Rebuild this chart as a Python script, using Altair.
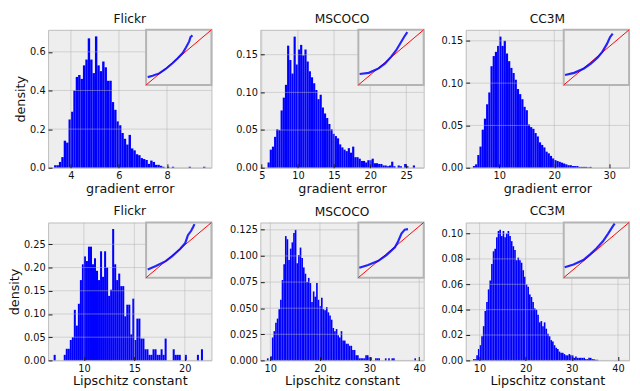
import altair as alt
import pandas as pd

# ---------------- data ----------------
TITLES = ["Flickr", "MSCOCO", "CC3M", "Flickr", "MSCOCO", "CC3M"]
XTITLES = ["gradient error"] * 3 + ["Lipschitz constant"] * 3

# histogram: first bin edge, bin width, densities
flickr_grad_lo, flickr_grad_w = 3.3, 0.1
flickr_grad = [0.013, 0.013, 0.03, 0.055, 0.14, 0.13, 0.25, 0.29, 0.40, 0.47,
               0.48, 0.46, 0.53, 0.56, 0.67, 0.56, 0.49, 0.68, 0.53, 0.50,
               0.55, 0.52, 0.45, 0.45, 0.34, 0.30, 0.24, 0.22, 0.18, 0.15,
               0.12, 0.17, 0.10, 0.09, 0.07, 0.065, 0.05, 0.045, 0.04, 0.02,
               0.037, 0.03, 0.015, 0.015, 0.01, 0.005, 0.0, 0.005, 0.0, 0.005,
               0, 0, 0, 0, 0, 0, 0.005, 0, 0, 0,
               0, 0, 0.005]

mscoco_grad_lo, mscoco_grad_w = 5.8, 0.3
mscoco_grad = [0.007, 0.024, 0.028, 0.041, 0.051, 0.05, 0.076, 0.093, 0.11, 0.162,
               0.143, 0.125, 0.174, 0.137, 0.157, 0.163, 0.149, 0.157, 0.141, 0.128,
               0.12, 0.112, 0.103, 0.091, 0.097, 0.08, 0.072, 0.066, 0.058, 0.051,
               0.045, 0.042, 0.039, 0.031, 0.027, 0.024, 0.022, 0.026, 0.02, 0.028,
               0.014, 0.014, 0.012, 0.009, 0.009, 0.007, 0.01, 0.01, 0.012, 0.006,
               0.006, 0.005, 0.005, 0.003, 0.003, 0.002, 0.003, 0.008, 0.002, 0.0,
               0.003, 0.002, 0.0, 0.005, 0.002, 0.0, 0.0, 0.003]

cc3m_grad_lo, cc3m_grad_w = 5.2, 0.4
cc3m_grad = [0.002, 0.004, 0.015, 0.025, 0.045, 0.058, 0.075, 0.089, 0.12, 0.132,
             0.137, 0.144, 0.155, 0.144, 0.15, 0.135, 0.126, 0.118, 0.112, 0.104,
             0.093, 0.087, 0.081, 0.072, 0.068, 0.051, 0.048, 0.046, 0.041, 0.037,
             0.03, 0.027, 0.024, 0.019, 0.017, 0.014, 0.011, 0.009, 0.008, 0.007,
             0.006, 0.005, 0.004, 0.003, 0.003, 0.002, 0.002, 0.002, 0.001, 0.001,
             0.001, 0.001, 0.0005, 0.001]

flickr_lip_lo, flickr_lip_w = 7.0, 0.2
flickr_lip = [0.012, 0, 0, 0, 0, 0.012, 0.025, 0.025, 0.044, 0.05,
              0.109, 0.075, 0.122, 0.173, 0.207, 0.224, 0.214, 0.245, 0.245, 0.207,
              0.22, 0.193, 0.173, 0.235, 0.18, 0.235, 0.2, 0.139, 0.152, 0.283,
              0.207, 0.173, 0.187, 0.16, 0.16, 0.095, 0.12, 0.12, 0.056, 0.133,
              0.044, 0.09, 0.09, 0.047, 0.047, 0.024, 0.024, 0.012, 0.012, 0.024,
              0.024, 0.012, 0.012, 0.024, 0.012, 0.047, 0, 0, 0, 0.024,
              0.012, 0.012, 0.012, 0, 0, 0.012, 0, 0, 0, 0,
              0, 0.012, 0, 0.024]

mscoco_lip_lo, mscoco_lip_w = 9.33, 0.33
mscoco_lip = [0.002, 0.0, 0.004, 0.022, 0.028, 0.036, 0.040, 0.049, 0.058, 0.077,
              0.092, 0.119, 0.116, 0.096, 0.107, 0.113, 0.122, 0.125, 0.093, 0.101,
              0.108, 0.098, 0.089, 0.083, 0.075, 0.079, 0.074, 0.056, 0.066, 0.061,
              0.074, 0.058, 0.052, 0.06, 0.049, 0.048, 0.051, 0.046, 0.043, 0.039,
              0.031, 0.028, 0.03, 0.024, 0.022, 0.028, 0.019, 0.019, 0.016, 0.016,
              0.014, 0.014, 0.01, 0.01, 0.005, 0.005, 0.002, 0.002, 0.002, 0.002,
              0.005, 0.005, 0.003, 0.003, 0.0, 0.0, 0.002, 0.002, 0.002, 0.0,
              0.0, 0.0, 0.002, 0.0, 0.002, 0.0, 0.002, 0.002, 0, 0,
              0, 0, 0, 0, 0, 0, 0, 0, 0, 0,
              0.002]

cc3m_lip_lo, cc3m_lip_w = 8.57, 0.357
cc3m_lip = [0.001, 0.001, 0.004, 0.009, 0.012, 0.019, 0.027, 0.039, 0.046, 0.056,
            0.063, 0.076, 0.086, 0.088, 0.097, 0.102, 0.103, 0.098, 0.102, 0.097,
            0.1, 0.102, 0.098, 0.094, 0.09, 0.087, 0.079, 0.081, 0.079, 0.077,
            0.071, 0.066, 0.06, 0.058, 0.052, 0.05, 0.046, 0.041, 0.04, 0.036,
            0.03, 0.031, 0.027, 0.03, 0.025, 0.021, 0.019, 0.016, 0.015, 0.012,
            0.01, 0.009, 0.007, 0.006, 0.006, 0.005, 0.004, 0.004, 0.005, 0.004,
            0.004, 0.002, 0.003, 0.002, 0.002, 0.002, 0.002, 0.002, 0.001, 0.001,
            0.002, 0.002, 0.001, 0.001, 0.0005, 0.0005]

# axis domains and ticks
XDOMS = [[3.05, 9.85], [4.8, 27.4], [3.9, 33.6], [6.45, 22.64], [8.0, 40.9], [7.0, 42.4]]
YDOMS = [[0, 0.714], [0, 0.183], [0, 0.163], [0, 0.297], [0, 0.132], [0, 0.1087]]
XTICKS = [[4, 6, 8], [5, 10, 15, 20, 25], [10, 20, 30], [10, 15, 20], [10, 20, 30, 40], [10, 20, 30, 40]]
YTICKS = [[0.0, 0.2, 0.4, 0.6], [0.0, 0.05, 0.10, 0.15], [0.0, 0.05, 0.10, 0.15],
          [0.0, 0.05, 0.10, 0.15, 0.20, 0.25], [0.0, 0.025, 0.05, 0.075, 0.1, 0.125],
          [0.0, 0.02, 0.04, 0.06, 0.08, 0.10]]
YFMTS = [".1f", ".2f", ".2f", ".2f", ".3f", ".2f"]

# Q-Q insets (normalised theoretical / sample quantiles)
qq_x = [
    [0.025, 0.1, 0.2, 0.3, 0.4, 0.48, 0.56, 0.61, 0.66, 0.68, 0.71],
    [0.02, 0.16, 0.31, 0.41, 0.5, 0.58, 0.65, 0.7, 0.75],
    [0.02, 0.16, 0.31, 0.42, 0.52, 0.59, 0.66, 0.71, 0.75],
    [0.025, 0.15, 0.3, 0.4, 0.52, 0.6, 0.64, 0.69, 0.72, 0.74],
    [0.015, 0.15, 0.3, 0.43, 0.56, 0.61, 0.66, 0.71, 0.76],
    [0.015, 0.15, 0.3, 0.4, 0.5, 0.6, 0.68, 0.75, 0.78],
]
qq_y = [
    [0.143, 0.166, 0.21, 0.29, 0.39, 0.48, 0.58, 0.68, 0.79, 0.87, 0.90],
    [0.2, 0.22, 0.3, 0.39, 0.51, 0.63, 0.77, 0.87, 0.96],
    [0.18, 0.22, 0.3, 0.39, 0.5, 0.6, 0.74, 0.87, 0.93],
    [0.15, 0.21, 0.3, 0.39, 0.52, 0.63, 0.77, 0.85, 0.92, 0.97],
    [0.18, 0.23, 0.3, 0.41, 0.55, 0.66, 0.8, 0.87, 0.88],
    [0.19, 0.24, 0.32, 0.42, 0.53, 0.66, 0.8, 0.93, 0.98],
]
ref_line_x = [0, 1]
ref_line_y = [0, 1]

HISTS = [(flickr_grad_lo, flickr_grad_w, flickr_grad),
         (mscoco_grad_lo, mscoco_grad_w, mscoco_grad),
         (cc3m_grad_lo, cc3m_grad_w, cc3m_grad),
         (flickr_lip_lo, flickr_lip_w, flickr_lip),
         (mscoco_lip_lo, mscoco_lip_w, mscoco_lip),
         (cc3m_lip_lo, cc3m_lip_w, cc3m_lip)]

# ---------------- layout / style ----------------
W, H = 167, 141
FONT = "DejaVu Sans"


def make_panel(i):
    lo, step, heights = HISTS[i]
    x0 = [lo + k * step for k in range(len(heights))]
    df = pd.DataFrame({"x0": x0, "x1": [v + step for v in x0], "d": heights,
                       "z": [0.0] * len(heights)})

    def xs():
        return alt.Scale(domain=XDOMS[i], nice=False, zero=False)

    def ys():
        return alt.Scale(domain=YDOMS[i], nice=False, zero=False)

    common = dict(offset=-4, tickSize=4, tickColor="#1a1a1a", tickWidth=1,
                  domain=False, grid=False, labelPadding=3, titlePadding=2,
                  labelFont=FONT, labelFontSize=10, labelColor="#111111",
                  titleFont=FONT, titleFontSize=13, titleFontWeight="normal",
                  titleColor="#111111", labelFlush=False, labelOverlap=False,
                  zindex=1)
    if i % 3 == 0:
        yaxis = alt.Axis(values=YTICKS[i], format=YFMTS[i], title="density", **common)
    else:
        yaxis = alt.Axis(values=YTICKS[i], format=YFMTS[i], title="", **common)
    bars = alt.Chart(df).mark_rect(color="#0000ff").encode(
        x=alt.X("x0:Q", scale=xs(),
                axis=alt.Axis(values=XTICKS[i], format="d", title=XTITLES[i], **common)),
        x2="x1:Q",
        y=alt.Y("d:Q", scale=ys(), axis=yaxis),
        y2="z:Q",
    )
    gx = alt.Chart(pd.DataFrame({"t": XTICKS[i]})).mark_rule(
        color="#b2b2b2", strokeWidth=1, opacity=0.5).encode(
        x=alt.X("t:Q", scale=xs(), axis=None))
    gy = alt.Chart(pd.DataFrame({"t": YTICKS[i]})).mark_rule(
        color="#b2b2b2", strokeWidth=1, opacity=0.5).encode(
        y=alt.Y("t:Q", scale=ys(), axis=None))

    def isx():
        return alt.Scale(domain=[0, 1], range=[W * 0.6, W], nice=False, zero=False)

    def isy():
        return alt.Scale(domain=[0, 1], range=[H * 0.4, 0], nice=False, zero=False)

    frame = alt.Chart(pd.DataFrame({"a": [0.0], "b": [1.0]})).mark_rect(
        fill="#eeeeee", stroke="#b4b4b4", strokeWidth=2).encode(
        x=alt.X("a:Q", scale=isx(), axis=None), x2="b:Q",
        y=alt.Y("a:Q", scale=isy(), axis=None), y2="b:Q")
    red = alt.Chart(pd.DataFrame({"qx": ref_line_x, "qy": ref_line_y})).mark_line(
        color="#ff0000", strokeWidth=1).encode(
        x=alt.X("qx:Q", scale=isx(), axis=None),
        y=alt.Y("qy:Q", scale=isy(), axis=None))
    blue = alt.Chart(pd.DataFrame({"qx": qq_x[i], "qy": qq_y[i]})).mark_line(
        color="#0000ff", strokeWidth=2.2, opacity=0.85).encode(
        x=alt.X("qx:Q", scale=isx(), axis=None),
        y=alt.Y("qy:Q", scale=isy(), axis=None))

    return alt.layer(bars, gx, gy, frame, red, blue).resolve_scale(
        x="independent", y="independent").properties(
        width=W, height=H,
        title=alt.TitleParams(text=TITLES[i], font=FONT, fontSize=12.5,
                              fontWeight="normal", color="#111111", offset=2))


chart = alt.concat(*[make_panel(i) for i in range(6)], columns=3,
                   spacing={"row": 8, "column": 14}, align="each").properties(
    padding=0
).configure_view(fill="#eeeeee", stroke="#bcbcbc", strokeWidth=1)

chart.save("out.html", embed_options={"renderer": "svg", "actions": False})
